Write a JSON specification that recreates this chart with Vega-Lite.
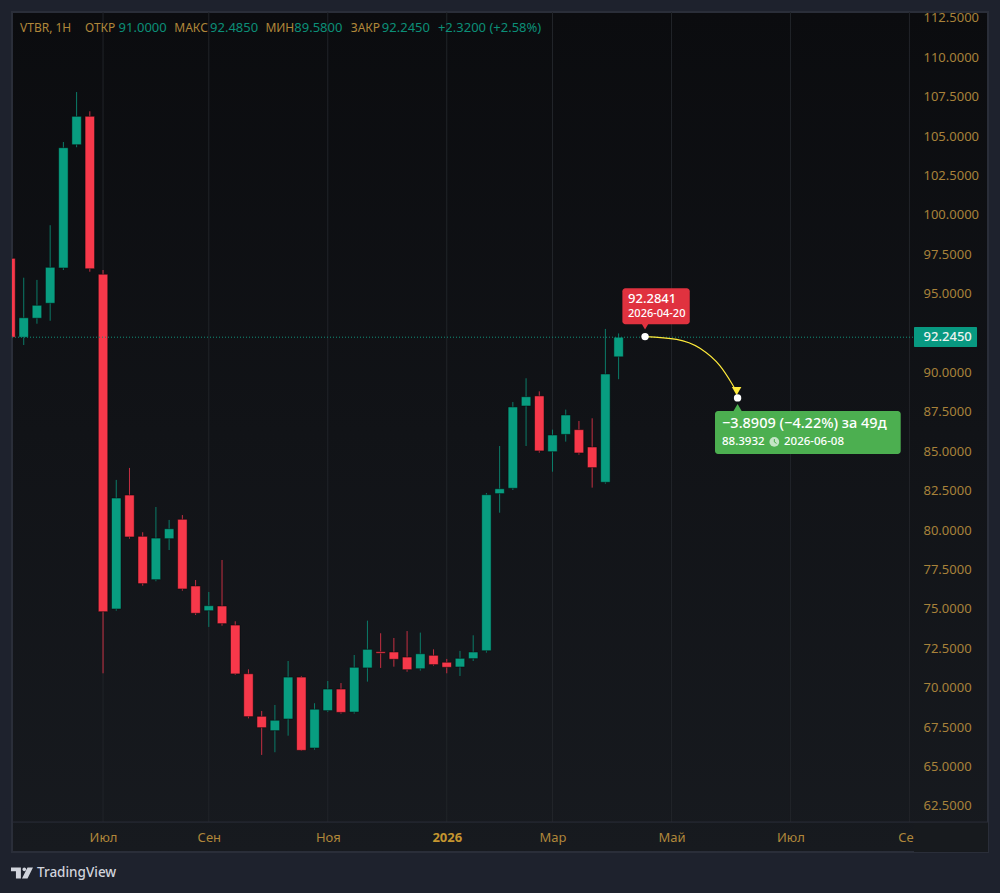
{
  "$schema": "https://vega.github.io/schema/vega-lite/v6.json",
  "width": 976,
  "height": 840,
  "autosize": "none",
  "padding": {"left": 12, "top": 12, "right": 12, "bottom": 41},
  "background": "#1e222d",
  "view": {
    "stroke": "#2a2e39",
    "strokeWidth": 2,
    "fill": {"gradient": "linear", "x1": 0, "y1": 0, "x2": 0, "y2": 1, "stops": [{"offset": 0, "color": "#0b0c0f"}, {"offset": 1, "color": "#171a1f"}]}
  },
  "config": {
    "axis": {"labelFont": "Noto Sans", "labelFontSize": 13, "domain": false, "ticks": false, "grid": false},
    "text": {"font": "Noto Sans", "baseline": "middle", "align": "left"}
  },
  "datasets": {
    "candles": [
      {"x": "2025-05-19", "open": 97.25, "high": 97.25, "low": 92.24, "close": 92.24},
      {"x": "2025-05-26", "open": 92.24, "high": 96.02, "low": 91.75, "close": 93.48},
      {"x": "2025-06-02", "open": 93.45, "high": 95.88, "low": 93.10, "close": 94.27},
      {"x": "2025-06-09", "open": 94.40, "high": 99.35, "low": 93.29, "close": 96.68},
      {"x": "2025-06-16", "open": 96.64, "high": 104.63, "low": 96.51, "close": 104.27},
      {"x": "2025-06-23", "open": 104.46, "high": 107.80, "low": 104.30, "close": 106.26},
      {"x": "2025-06-30", "open": 106.26, "high": 106.58, "low": 96.40, "close": 96.59},
      {"x": "2025-07-07", "open": 96.24, "high": 96.51, "low": 70.92, "close": 74.83},
      {"x": "2025-07-14", "open": 75.00, "high": 83.19, "low": 74.89, "close": 82.04},
      {"x": "2025-07-21", "open": 82.23, "high": 83.95, "low": 79.46, "close": 79.57},
      {"x": "2025-07-28", "open": 79.61, "high": 79.87, "low": 76.48, "close": 76.61},
      {"x": "2025-08-04", "open": 76.86, "high": 81.47, "low": 76.76, "close": 79.50},
      {"x": "2025-08-11", "open": 79.46, "high": 80.65, "low": 78.74, "close": 80.09},
      {"x": "2025-08-18", "open": 80.69, "high": 80.96, "low": 76.16, "close": 76.27},
      {"x": "2025-08-25", "open": 76.46, "high": 76.84, "low": 74.62, "close": 74.73},
      {"x": "2025-09-01", "open": 74.89, "high": 76.08, "low": 73.86, "close": 75.21},
      {"x": "2025-09-08", "open": 75.19, "high": 78.11, "low": 73.94, "close": 74.07},
      {"x": "2025-09-15", "open": 73.98, "high": 74.22, "low": 70.81, "close": 70.88},
      {"x": "2025-09-22", "open": 70.89, "high": 71.17, "low": 68.06, "close": 68.17},
      {"x": "2025-09-29", "open": 68.19, "high": 68.53, "low": 65.74, "close": 67.47},
      {"x": "2025-10-06", "open": 67.28, "high": 68.91, "low": 65.91, "close": 67.94},
      {"x": "2025-10-13", "open": 68.02, "high": 71.70, "low": 66.96, "close": 70.68},
      {"x": "2025-10-20", "open": 70.68, "high": 70.75, "low": 65.99, "close": 66.03},
      {"x": "2025-10-27", "open": 66.18, "high": 69.02, "low": 66.07, "close": 68.64},
      {"x": "2025-11-03", "open": 68.55, "high": 70.43, "low": 68.46, "close": 69.92},
      {"x": "2025-11-10", "open": 69.92, "high": 70.30, "low": 68.36, "close": 68.44},
      {"x": "2025-11-17", "open": 68.46, "high": 72.08, "low": 68.36, "close": 71.30},
      {"x": "2025-11-24", "open": 71.26, "high": 74.26, "low": 70.39, "close": 72.44},
      {"x": "2025-12-01", "open": 72.29, "high": 73.46, "low": 71.26, "close": 72.19},
      {"x": "2025-12-08", "open": 72.27, "high": 73.16, "low": 71.34, "close": 71.81},
      {"x": "2025-12-15", "open": 71.95, "high": 73.60, "low": 71.02, "close": 71.15},
      {"x": "2025-12-22", "open": 71.21, "high": 73.50, "low": 71.09, "close": 72.16},
      {"x": "2025-12-29", "open": 72.06, "high": 72.44, "low": 71.40, "close": 71.47},
      {"x": "2026-01-05", "open": 71.62, "high": 71.83, "low": 70.92, "close": 71.30},
      {"x": "2026-01-12", "open": 71.32, "high": 72.34, "low": 70.75, "close": 71.87},
      {"x": "2026-01-19", "open": 71.85, "high": 73.33, "low": 71.70, "close": 72.27},
      {"x": "2026-01-26", "open": 72.35, "high": 82.36, "low": 72.23, "close": 82.25},
      {"x": "2026-02-02", "open": 82.32, "high": 85.34, "low": 81.11, "close": 82.63},
      {"x": "2026-02-09", "open": 82.66, "high": 88.13, "low": 82.55, "close": 87.82},
      {"x": "2026-02-16", "open": 87.88, "high": 89.64, "low": 85.34, "close": 88.47},
      {"x": "2026-02-23", "open": 88.52, "high": 88.81, "low": 84.92, "close": 85.03},
      {"x": "2026-03-02", "open": 84.98, "high": 86.38, "low": 83.71, "close": 86.04},
      {"x": "2026-03-09", "open": 86.08, "high": 87.65, "low": 85.62, "close": 87.31},
      {"x": "2026-03-16", "open": 86.38, "high": 86.93, "low": 84.79, "close": 84.90},
      {"x": "2026-03-23", "open": 85.28, "high": 87.10, "low": 82.70, "close": 83.97},
      {"x": "2026-03-30", "open": 83.04, "high": 92.77, "low": 82.95, "close": 89.91},
      {"x": "2026-04-06", "open": 91.00, "high": 92.485, "low": 89.58, "close": 92.245}
    ],
    "hgrid": [
      {"y": 112.5}, {"y": 110}, {"y": 107.5}, {"y": 105}, {"y": 102.5}, {"y": 100}, {"y": 97.5}, {"y": 95}, {"y": 92.5}, {"y": 90}, {"y": 87.5},
      {"y": 85}, {"y": 82.5}, {"y": 80}, {"y": 77.5}, {"y": 75}, {"y": 72.5}, {"y": 70}, {"y": 67.5}, {"y": 65}, {"y": 62.5}
    ],
    "vgrid": [
      {"x": "2025-07-07"}, {"x": "2025-09-01"}, {"x": "2025-11-03"}, {"x": "2026-01-05"}, {"x": "2026-03-02"}, {"x": "2026-05-04"}, {"x": "2026-07-06"}, {"x": "2026-09-07"}
    ],
    "curve": [
      {"x": "2026-04-20T00:00:00Z", "y": 92.2841},
      {"x": "2026-05-06T18:00:00Z", "y": 92.11},
      {"x": "2026-05-19T02:00:00Z", "y": 91.54},
      {"x": "2026-05-29T17:00:00Z", "y": 90.42},
      {"x": "2026-06-04T21:00:00Z", "y": 89.32},
      {"x": "2026-06-07T20:00:00Z", "y": 88.71}
    ]
  },
  "encoding": {
    "x": {
      "field": "x",
      "type": "temporal",
      "title": null,
      "scale": {"type": "utc", "nice": false, "padding": 0, "domain": ["2025-05-19T19:00:00Z", "2026-10-18T14:24:00Z"]},
      "axis": {
        "orient": "bottom",
        "offset": -30,
        "values": ["2025-07-07T00:00:00Z", "2025-09-01T00:00:00Z", "2025-11-03T00:00:00Z", "2026-01-05T00:00:00Z", "2026-03-02T00:00:00Z", "2026-05-04T00:00:00Z", "2026-07-06T00:00:00Z", "2026-09-07T00:00:00Z"],
        "labelExpr": "utcmonth(datum.value)==0 ? '' + utcyear(datum.value) : ['Янв','Фев','Мар','Апр','Май','Июн','Июл','Авг','Сен','Окт','Ноя','Дек'][utcmonth(datum.value)]",
        "labelColor": {"expr": "utcmonth(datum.value)==0 ? '#c4952f' : '#b0873a'"},
        "labelFontWeight": {"expr": "utcmonth(datum.value)==0 ? 'bold' : 'normal'"},
        "labelPadding": 9,
        "labelOverlap": false,
        "labelFlush": false,
        "labelBound": false
      }
    },
    "y": {
      "field": "y",
      "type": "quantitative",
      "title": null,
      "scale": {"domain": [59.58, 112.88], "nice": false, "zero": false},
      "axis": {
        "orient": "right",
        "offset": -74,
        "values": [112.5, 110, 107.5, 105, 102.5, 100, 97.5, 95, 90, 87.5, 85, 82.5, 80, 77.5, 75, 72.5, 70, 67.5, 65, 62.5],
        "format": ".4f",
        "labelColor": "#a8823a",
        "labelPadding": 9,
        "labelOverlap": false,
        "labelFlush": false,
        "labelBound": false
      }
    }
  },
  "layer": [
    {
      "data": {"name": "hgrid"},
      "transform": [{"calculate": "'2025-05-19T19:00:00Z'", "as": "x"}, {"calculate": "'2026-09-09T10:00:00Z'", "as": "x2"}],
      "mark": {"type": "rule", "color": "#26292f", "strokeWidth": 1},
      "encoding": {"x2": {"field": "x2"}}
    },
    {
      "data": {"name": "vgrid"},
      "transform": [{"calculate": "112.88", "as": "y"}, {"calculate": "61.48", "as": "y2"}],
      "mark": {"type": "rule", "color": "#212429", "strokeWidth": 1},
      "encoding": {"y2": {"field": "y2"}}
    },
    {
      "data": {"name": "candles"},
      "mark": {"type": "rule", "strokeWidth": 1, "clip": true},
      "encoding": {
        "y": {"field": "low", "type": "quantitative", "title": null},
        "y2": {"field": "high"},
        "color": {"condition": {"test": "datum.close < datum.open", "value": "#c42f42"}, "value": "#0b7c68"}
      }
    },
    {
      "data": {"name": "candles"},
      "mark": {"type": "bar", "size": 9.5, "clip": true, "stroke": "#08090b", "strokeWidth": 0.5},
      "encoding": {
        "y": {"field": "open", "type": "quantitative", "title": null},
        "y2": {"field": "close"},
        "color": {"condition": {"test": "datum.close < datum.open", "value": "#f7384a"}, "value": "#089d80"}
      }
    },
    {
      "data": {"values": [{"x": "2025-05-19T19:00:00Z", "x2": "2026-09-09T10:00:00Z", "y": 92.245}]},
      "mark": {"type": "rule", "color": "#129079", "strokeWidth": 1, "strokeDash": [1, 2]},
      "encoding": {"x2": {"field": "x2"}}
    },
    {
      "data": {"values": [{"x": "2026-09-09T10:00:00Z", "x2": "2026-10-18T14:24:00Z", "y": 61.48, "y2": 59.58}]},
      "mark": {"type": "rect", "color": "#171a1e"},
      "encoding": {"x2": {"field": "x2"}, "y2": {"field": "y2"}}
    },
    {
      "data": {"values": [{"x": "2025-05-19T19:00:00Z", "x2": "2026-10-18T14:24:00Z", "y": 61.48}]},
      "mark": {"type": "rule", "color": "#2a2e39", "strokeWidth": 1},
      "encoding": {"x2": {"field": "x2"}}
    },
    {
      "data": {"values": [{"x": "2026-09-09T10:00:00Z", "x2": "2026-10-12T19:00:00Z", "y": 92.89, "y2": 91.62}]},
      "mark": {"type": "rect", "color": "#089981", "cornerRadius": 1},
      "encoding": {"x2": {"field": "x2"}, "y2": {"field": "y2"}}
    },
    {
      "data": {"values": [{"x": "2026-09-14T12:00:00Z", "y": 92.245, "t": "92.2450"}]},
      "mark": {"type": "text", "color": "#eef3f1", "fontSize": 13, "fontWeight": 500},
      "encoding": {"text": {"field": "t"}}
    },
    {
      "data": {"name": "curve"},
      "mark": {"type": "line", "color": "#ffeb3b", "strokeWidth": 1.2, "interpolate": "monotone"}
    },
    {
      "data": {"values": [{"x": "2026-06-07T12:00:00Z", "y": 88.82}]},
      "mark": {"type": "point", "shape": "triangle-down", "filled": true, "opacity": 1, "color": "#ffeb3b", "size": 90}
    },
    {
      "data": {"values": [{"x": "2026-04-20T00:00:00Z", "y": 93.02}]},
      "mark": {"type": "point", "shape": "triangle-down", "filled": true, "opacity": 1, "color": "#e0323f", "size": 110}
    },
    {
      "data": {"values": [{"x": "2026-04-08T00:00:00Z", "x2": "2026-05-13T16:00:00Z", "y": 95.35, "y2": 93.06}]},
      "mark": {"type": "rect", "color": "#e0323f", "cornerRadius": 3},
      "encoding": {"x2": {"field": "x2"}, "y2": {"field": "y2"}}
    },
    {
      "data": {"values": [{"x": "2026-04-11T00:00:00Z", "y": 94.65, "t": "92.2841"}]},
      "mark": {"type": "text", "color": "#ffffff", "fontSize": 13, "fontWeight": 500},
      "encoding": {"text": {"field": "t"}}
    },
    {
      "data": {"values": [{"x": "2026-04-11T00:00:00Z", "y": 93.72, "t": "2026-04-20"}]},
      "mark": {"type": "text", "color": "#ffffff", "fontSize": 11, "fontWeight": 500},
      "encoding": {"text": {"field": "t"}}
    },
    {
      "data": {"values": [{"x": "2026-06-08T00:00:00Z", "y": 87.72}]},
      "mark": {"type": "point", "shape": "triangle-up", "filled": true, "opacity": 1, "color": "#4caf50", "size": 110}
    },
    {
      "data": {"values": [{"x": "2026-05-27T01:00:00Z", "x2": "2026-09-02T09:00:00Z", "y": 87.56, "y2": 84.83}]},
      "mark": {"type": "rect", "color": "#4caf50", "cornerRadius": 3},
      "encoding": {"x2": {"field": "x2"}, "y2": {"field": "y2"}}
    },
    {
      "data": {"values": [{"x": "2026-05-30T18:00:00Z", "y": 86.74, "t": "−3.8909 (−4.22%) за 49д"}]},
      "mark": {"type": "text", "color": "#ffffff", "fontSize": 14.5, "fontWeight": 500},
      "encoding": {"text": {"field": "t"}}
    },
    {
      "data": {"values": [{"x": "2026-05-30T18:00:00Z", "y": 85.6, "t": "88.3932"}, {"x": "2026-07-02T14:00:00Z", "y": 85.6, "t": "2026-06-08"}]},
      "mark": {"type": "text", "color": "#ffffff", "fontSize": 11.5, "fontWeight": 500},
      "encoding": {"text": {"field": "t"}}
    },
    {
      "data": {"values": [{"x": "2026-06-27T11:00:00Z", "y": 85.6}]},
      "mark": {"type": "point", "shape": "circle", "filled": true, "opacity": 1, "color": "#c3e4c5", "size": 95}
    },
    {
      "data": {"values": [{"x": "2026-06-27T11:00:00Z", "y": 85.6}]},
      "mark": {"type": "point", "shape": "M0,-0.6L0,0L0.45,0.3", "filled": false, "opacity": 1, "color": "#4caf50", "strokeWidth": 1, "size": 95}
    },
    {
      "data": {"values": [{"x": "2026-04-20T00:00:00Z", "y": 92.2841}, {"x": "2026-06-08T00:00:00Z", "y": 88.3932}]},
      "mark": {"type": "point", "shape": "circle", "filled": true, "opacity": 1, "color": "#ffffff", "size": 55}
    },
    {
      "data": {"values": [{"x": "2025-05-24T01:00:00Z", "y": 111.87, "t": "VTBR, 1H"}, {"x": "2025-06-27T11:00:00Z", "y": 111.87, "t": "ОТКР"}, {"x": "2025-08-13T18:00:00Z", "y": 111.87, "t": "МАКС"}, {"x": "2025-09-30T23:00:00Z", "y": 111.87, "t": "МИН"}, {"x": "2025-11-15T04:00:00Z", "y": 111.87, "t": "ЗАКР"}]},
      "mark": {"type": "text", "color": "#b0873a", "fontSize": 12},
      "encoding": {"text": {"field": "t"}}
    },
    {
      "data": {"values": [{"x": "2025-07-15T06:00:00Z", "y": 111.87, "t": "91.0000"}, {"x": "2025-09-01T16:00:00Z", "y": 111.87, "t": "92.4850"}, {"x": "2025-10-16T07:00:00Z", "y": 111.87, "t": "89.5800"}, {"x": "2025-12-01T15:00:00Z", "y": 111.87, "t": "92.2450"}, {"x": "2025-12-31T08:00:00Z", "y": 111.87, "t": "+2.3200 (+2.58%)"}]},
      "mark": {"type": "text", "color": "#0b8f78", "fontSize": 13},
      "encoding": {"text": {"field": "t"}}
    },
    {
      "data": {"values": [{"x": "2025-05-25T02:00:00Z", "y": 58.25}]},
      "mark": {"type": "point", "shape": "M-1,-0.5L-0.1,-0.5L-0.1,0.5L-0.55,0.5L-0.55,-0.15L-1,-0.15ZM0.38,-0.33A0.17,0.17 0 1 1 0.04,-0.33A0.17,0.17 0 1 1 0.38,-0.33ZM1,-0.5L0.5,-0.5L0,0.5L0.5,0.5Z", "filled": true, "opacity": 1, "color": "#d1d4dc", "size": 484}
    },
    {
      "data": {"values": [{"x": "2025-06-02T01:00:00Z", "y": 58.25, "t": "TradingView"}]},
      "mark": {"type": "text", "color": "#d1d4dc", "fontSize": 13.5, "fontWeight": 500},
      "encoding": {"text": {"field": "t"}}
    }
  ]
}
